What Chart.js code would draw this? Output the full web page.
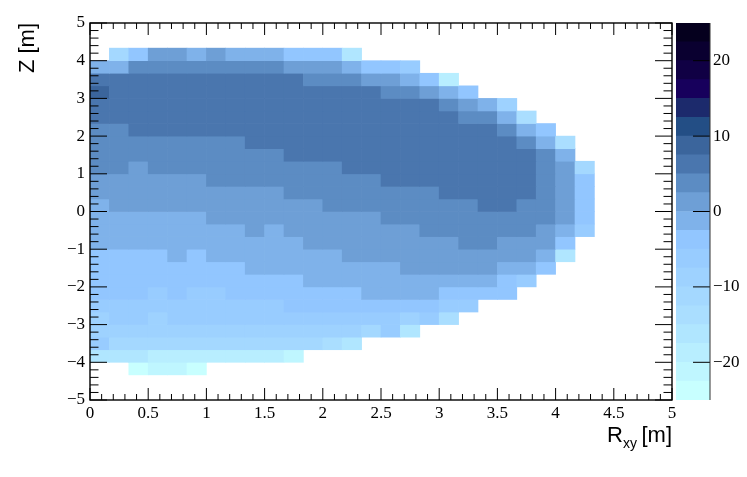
<!DOCTYPE html>
<html>
<head>
<meta charset="utf-8">
<script src="https://cdn.jsdelivr.net/npm/chart.js@4"></script>
<style>
body { margin: 0; background: #fff; }
canvas { position: absolute; top: 0; }
</style>
</head>
<body>
<canvas id="map" width="747" height="477" style="left:0"></canvas>
<canvas id="bar" width="71" height="477" style="left:676px"></canvas>
<script>
// colour levels, bottom to top of the palette (2.5 wide, -25 to 25)
const levelEdges = [-25, -22.5, -20, -17.5, -15, -12.5, -10, -7.5, -5, -2.5, 0, 2.5, 5, 7.5, 10, 12.5, 15, 17.5, 20, 22.5, 25];
const levelColors = ['#c8ffff', '#bff6ff', '#b8eeff', '#b0e6ff', '#aadeff', '#a4d8ff', '#9ed2ff', '#98ccff', '#92c6ff', '#7fb2ea',
    '#6e9fd6', '#5c8cc3', '#4a76ae', '#3b659c', '#234e85', '#1c2a6c', '#17005c', '#100044', '#0a0030', '#05001e'];

const xTicks = [0, 0.5, 1, 1.5, 2, 2.5, 3, 3.5, 4, 4.5, 5];
const yTicks = [-5, -4, -3, -2, -1, 0, 1, 2, 3, 4, 5];
const barTicks = [-20, -10, 0, 10, 20];

// 30 x 30 bins, R 0..5, Z 5..-5; each row starts at R = 0, from the top of the plot down
const rBinWidth = 5 / 30;
const zBinHeight = 10 / 30;
const _ = null;
const cells = [
    [],
    [],
    [_, -11, -3.5, 1.5, 1.5, -1, 1.5, -1, -1, -1, -3.5, -3.5, -3.5, -16],
    [-1, -1, 4, 4, 4, 4, 4, 4, 4, 4, 1.5, 1.5, 1.5, -1, -3.5, -3.5, -6],
    [6.5, 6.5, 6.5, 6.5, 6.5, 6.5, 6.5, 6.5, 6.5, 6.5, 6.5, 4, 4, 4, 1.5, 1.5, -1, -3.5, -18.5],
    [9, 6.5, 6.5, 6.5, 6.5, 6.5, 6.5, 6.5, 6.5, 6.5, 6.5, 6.5, 6.5, 6.5, 6.5, 4, 4, 1.5, -1, -3.5],
    [6.5, 6.5, 6.5, 6.5, 6.5, 6.5, 6.5, 6.5, 6.5, 6.5, 6.5, 6.5, 6.5, 6.5, 6.5, 6.5, 6.5, 6.5, 4, 1.5, -1, -8.5],
    [6.5, 6.5, 6.5, 6.5, 6.5, 6.5, 6.5, 6.5, 6.5, 6.5, 6.5, 6.5, 6.5, 6.5, 6.5, 6.5, 6.5, 6.5, 6.5, 4, 4, -1, -13.5],
    [4, 4, 6.5, 6.5, 6.5, 6.5, 6.5, 6.5, 6.5, 6.5, 6.5, 6.5, 6.5, 6.5, 6.5, 6.5, 6.5, 6.5, 6.5, 6.5, 6.5, 4, -1, -3.5],
    [4, 4, 4, 4, 4, 4, 4, 4, 6.5, 6.5, 6.5, 6.5, 6.5, 6.5, 6.5, 6.5, 6.5, 6.5, 6.5, 6.5, 6.5, 6.5, 4, -1, -13.5],
    [4, 4, 4, 4, 4, 4, 4, 4, 4, 4, 6.5, 6.5, 6.5, 6.5, 6.5, 6.5, 6.5, 6.5, 6.5, 6.5, 6.5, 6.5, 6.5, 4, -1],
    [4, 4, 1.5, 4, 4, 4, 4, 4, 4, 4, 4, 4, 4, 6.5, 6.5, 6.5, 6.5, 6.5, 6.5, 6.5, 6.5, 6.5, 6.5, 4, 1.5, -11],
    [1.5, 1.5, 1.5, 1.5, 1.5, 1.5, 4, 4, 4, 4, 4, 4, 4, 4, 4, 6.5, 6.5, 6.5, 6.5, 6.5, 6.5, 6.5, 6.5, 4, 1.5, -3.5],
    [1.5, 1.5, 1.5, 1.5, 1.5, 1.5, 1.5, 1.5, 1.5, 1.5, 4, 4, 4, 4, 4, 4, 4, 4, 6.5, 6.5, 6.5, 6.5, 6.5, 4, 1.5, -3.5],
    [-1, 1.5, 1.5, 1.5, 1.5, 1.5, 1.5, 1.5, 1.5, 1.5, 1.5, 1.5, 4, 4, 4, 4, 4, 4, 4, 4, 6.5, 6.5, 4, 4, 1.5, -3.5],
    [-1, -1, -1, -1, -1, -1, 1.5, 1.5, 1.5, 1.5, 1.5, 1.5, 1.5, 1.5, 1.5, 4, 4, 4, 4, 4, 4, 4, 4, 4, 1.5, -3.5],
    [-1, -1, -1, -1, -1, -1, -1, -1, 1.5, -1, 1.5, 1.5, 1.5, 1.5, 1.5, 1.5, 1.5, 4, 4, 4, 4, 4, 4, 1.5, -1, -6],
    [-1, -1, -1, -1, -1, -1, -1, -1, -1, -1, -1, 1.5, 1.5, 1.5, 1.5, 1.5, 1.5, 1.5, 1.5, 4, 4, 1.5, 1.5, 1.5, -3.5],
    [-3.5, -3.5, -3.5, -3.5, -1, -3.5, -1, -1, -1, -1, -1, -1, -1, 1.5, 1.5, 1.5, 1.5, 1.5, 1.5, 1.5, 1.5, 1.5, 1.5, -1, -16],
    [-3.5, -3.5, -3.5, -3.5, -3.5, -3.5, -3.5, -3.5, -1, -1, -1, -1, -1, -1, -1, -1, 1.5, 1.5, 1.5, 1.5, 1.5, -1, -1, -3.5],
    [-3.5, -3.5, -3.5, -3.5, -3.5, -3.5, -3.5, -3.5, -3.5, -3.5, -3.5, -1, -1, -1, -1, -1, -1, -1, -1, -1, -1, -3.5, -6],
    [-3.5, -3.5, -3.5, -6, -3.5, -6, -6, -3.5, -3.5, -3.5, -3.5, -3.5, -3.5, -3.5, -1, -1, -1, -1, -3.5, -3.5, -3.5, -3.5],
    [-6, -6, -6, -6, -6, -6, -6, -6, -6, -6, -3.5, -3.5, -3.5, -3.5, -3.5, -3.5, -3.5, -3.5, -6, -6],
    [-8.5, -6, -6, -8.5, -6, -6, -6, -6, -6, -6, -6, -6, -6, -6, -6, -6, -8.5, -6, -13.5],
    [-8.5, -8.5, -8.5, -8.5, -8.5, -8.5, -8.5, -8.5, -8.5, -8.5, -8.5, -8.5, -8.5, -8.5, -11, -6, -16],
    [-6, -11, -11, -11, -11, -11, -11, -11, -11, -11, -11, -11, -13.5, -16],
    [-16, -16, -16, -18.5, -18.5, -18.5, -18.5, -18.5, -18.5, -18.5, -21],
    [_, _, -23.5, -21, -21, -23.5],
    [],
    []
];

function colorFor(v) {
    const i = levelEdges.findIndex(function (e, k) { return v >= e && v < levelEdges[k + 1]; });
    return levelColors[i];
}

const rowDatasets = cells.map(function (row, r) {
    const points = [];
    row.forEach(function (v, c) {
        if (v === null) return;
        points.push({ x: (c + 0.5) * rBinWidth, y: [5 - (r + 1) * zBinHeight, 5 - r * zBinHeight], v: v });
    });
    return {
        data: points,
        backgroundColor: function (ctx) { return ctx.raw ? colorFor(ctx.raw.v) : 'transparent'; }
    };
});

function signed(v) {
    return String(v).replace('-', '\u2212');
}

// ROOT style frame and inward ticks on all four sides, R subscript title
const frameTicks = {
    id: 'frameTicks',
    afterDatasetsDraw(chart) {
        const c = chart.ctx, a = chart.chartArea, sx = chart.scales.x, sy = chart.scales.y;
        c.save();
        c.strokeStyle = '#000';
        c.lineWidth = 1;
        c.beginPath();
        for (let i = 0; i <= 50; i++) {
            const px = sx.getPixelForValue(i / 10), len = i % 5 === 0 ? 12 : 6;
            c.moveTo(px, a.bottom); c.lineTo(px, a.bottom - len);
            c.moveTo(px, a.top); c.lineTo(px, a.top + len);
        }
        for (let i = -25; i <= 25; i++) {
            const py = sy.getPixelForValue(i / 5), len = i % 5 === 0 ? 17 : 8.5;
            c.moveTo(a.left, py); c.lineTo(a.left + len, py);
            c.moveTo(a.right, py); c.lineTo(a.right - len, py);
        }
        c.stroke();
        c.lineWidth = 1.4;
        c.strokeRect(a.left, a.top, a.right - a.left, a.bottom - a.top);

        c.fillStyle = '#000';
        c.textBaseline = 'alphabetic';
        c.textAlign = 'left';
        const x0 = a.right - 65, base = a.bottom + 41.5;
        c.font = '22px "Liberation Sans"';
        c.fillText('R', x0, base);
        const rw = c.measureText('R').width;
        c.fillText('[m]', a.right - c.measureText('[m]').width, base);
        c.font = '14px "Liberation Sans"';
        c.fillText('xy', x0 + rw, base + 6);
        c.restore();
    }
};

new Chart(document.getElementById('map'), {
    type: 'bar',
    data: { datasets: rowDatasets },
    options: {
        responsive: false,
        animation: false,
        events: [],
        layout: { padding: { top: 23, right: 75, left: 0, bottom: 0 } },
        plugins: { legend: { display: false }, tooltip: { enabled: false } },
        datasets: { bar: { grouped: false, barPercentage: 1, categoryPercentage: 1 } },
        scales: {
            x: {
                type: 'linear', min: 0, max: 5, offset: false,
                afterFit: function (s) { s.height = 77; },
                afterBuildTicks: function (s) { s.ticks = xTicks.map(function (v) { return { value: v }; }); },
                grid: { display: false, drawTicks: false },
                border: { display: false },
                ticks: {
                    padding: 3, color: '#000', maxRotation: 0, autoSkip: false,
                    font: { family: 'Liberation Serif', size: 17 },
                    callback: function (v) { return signed(v); }
                }
            },
            y: {
                type: 'linear', min: -5, max: 5,
                afterFit: function (s) { s.width = 90; },
                afterBuildTicks: function (s) { s.ticks = yTicks.map(function (v) { return { value: v }; }); },
                grid: { display: false, drawTicks: false },
                border: { display: false },
                ticks: {
                    padding: 5, color: '#000', autoSkip: false,
                    font: { family: 'Liberation Serif', size: 17 },
                    callback: function (v) { return signed(v); }
                },
                title: {
                    display: true, text: 'Z [m]', align: 'end', color: '#000',
                    font: { family: 'Liberation Sans', size: 22 },
                    padding: { top: 15, bottom: 0 }
                }
            }
        }
    },
    plugins: [frameTicks]
});

// palette bar
const barEdge = {
    id: 'barEdge',
    afterDatasetsDraw(chart) {
        const c = chart.ctx, a = chart.chartArea, sy = chart.scales.y;
        c.save();
        c.strokeStyle = '#000';
        c.lineWidth = 1;
        c.beginPath();
        barTicks.forEach(function (v) {
            const py = sy.getPixelForValue(v);
            c.moveTo(a.right, py); c.lineTo(a.right - 17, py);
        });
        c.stroke();
        c.strokeStyle = '#333';
        c.beginPath();
        c.moveTo(a.right, a.top); c.lineTo(a.right, a.bottom);
        c.stroke();
        c.restore();
    }
};

new Chart(document.getElementById('bar'), {
    type: 'bar',
    data: {
        labels: ['z'],
        datasets: levelColors.map(function (col, i) {
            return { data: [[levelEdges[i], levelEdges[i + 1]]], backgroundColor: col };
        })
    },
    options: {
        responsive: false,
        animation: false,
        events: [],
        layout: { padding: { top: 23, bottom: 77, left: 0, right: 0 } },
        plugins: { legend: { display: false }, tooltip: { enabled: false } },
        datasets: { bar: { grouped: false, barPercentage: 1, categoryPercentage: 1 } },
        scales: {
            x: { display: false },
            y: {
                position: 'right', min: -25, max: 25,
                afterFit: function (s) { s.width = 37; },
                afterBuildTicks: function (s) { s.ticks = barTicks.map(function (v) { return { value: v }; }); },
                grid: { display: false, drawTicks: false },
                border: { display: false },
                ticks: {
                    padding: 3, color: '#000', autoSkip: false,
                    font: { family: 'Liberation Serif', size: 17 },
                    callback: function (v) { return signed(v); }
                }
            }
        }
    },
    plugins: [barEdge]
});
</script>
</body>
</html>
